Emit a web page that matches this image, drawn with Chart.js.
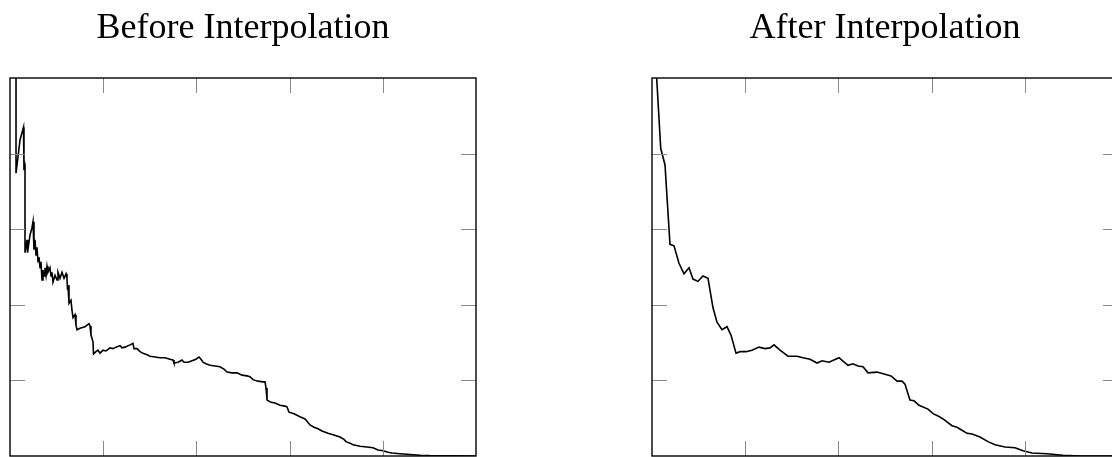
<!DOCTYPE html>
<html>
<head>
<meta charset="utf-8">
<script src="https://cdn.jsdelivr.net/npm/chart.js@4.4.1/dist/chart.umd.min.js"></script>
<style>
  html, body { margin: 0; padding: 0; background: #fff; overflow: hidden; }
  body { width: 1112px; height: 457px; position: relative; }
  canvas { position: absolute; top: 0; }
</style>
</head>
<body>
<canvas id="before" width="556" height="457" style="left:0"></canvas>
<canvas id="after" width="556" height="457" style="left:642px"></canvas>
<script>
// --- data ---
const beforeX = [1.29,1.29,2.15,2.90,3.00,3.11,3.22,3.22,3.65,3.76,
  4.29,4.72,4.94,5.15,5.37,5.58,5.79,6.01,6.22,6.44,
  6.65,6.87,7.08,7.30,7.51,7.73,7.94,8.15,8.58,8.80,
  9.01,9.23,9.66,10.09,10.30,10.73,11.16,11.59,12.02,12.23,
  12.34,12.45,12.66,13.09,13.30,13.52,13.95,14.16,14.38,15.02,
  16.09,16.95,17.17,17.38,17.81,17.92,18.45,18.88,19.31,19.96,
  20.60,21.46,22.10,22.75,23.61,24.03,24.68,25.75,26.39,26.61,
  27.25,27.90,28.54,29.40,30.04,31.12,32.19,33.26,34.33,34.98,
  35.19,36.05,36.91,37.34,38.20,39.06,39.91,40.56,40.99,41.42,
  42.06,42.92,43.99,45.06,45.92,46.57,47.64,48.71,49.79,50.86,
  51.50,52.15,53.22,54.29,54.72,54.94,55.15,56.01,56.87,57.94,
  59.01,59.44,59.87,60.94,62.23,63.30,63.73,64.38,65.24,66.09,
  66.95,68.24,69.31,70.82,71.67,72.10,72.96,73.61,75.11,76.61,
  77.90,78.97,80.04,81.12,81.97,83.69,85.84,87.98,90.13,94.42,
  100];
const beforeY = [5.50,3.74,4.18,4.35,3.78,3.88,3.85,2.69,2.86,2.69,
  2.92,3.02,3.10,2.73,2.86,2.66,2.76,2.57,2.63,2.49,
  2.57,2.33,2.46,2.38,2.49,2.39,2.51,2.43,2.49,2.38,
  2.43,2.30,2.39,2.33,2.43,2.35,2.43,2.35,2.41,2.35,
  2.20,2.26,2.02,2.06,1.93,1.83,1.87,1.73,1.67,1.69,
  1.71,1.75,1.72,1.60,1.51,1.35,1.38,1.40,1.36,1.40,
  1.39,1.43,1.42,1.44,1.46,1.43,1.44,1.47,1.49,1.42,
  1.42,1.38,1.36,1.34,1.32,1.31,1.30,1.30,1.28,1.27,
  1.23,1.24,1.27,1.24,1.24,1.26,1.28,1.31,1.28,1.24,
  1.22,1.20,1.19,1.18,1.15,1.11,1.10,1.10,1.07,1.06,
  1.05,1.01,0.99,0.98,0.98,0.90,0.74,0.71,0.70,0.67,
  0.66,0.65,0.58,0.56,0.52,0.49,0.46,0.41,0.38,0.36,
  0.33,0.30,0.28,0.25,0.22,0.19,0.17,0.15,0.13,0.12,
  0.11,0.08,0.07,0.05,0.04,0.03,0.02,0.01,0.005,0.002,
  0];

const afterX = [0.66,1.87,2.79,3.86,4.72,5.79,6.87,7.94,8.80,9.87,
  10.94,12.02,13.09,13.95,15.02,16.09,16.95,18.03,18.88,20.17,
  21.46,22.96,24.25,25.32,26.18,27.47,29.18,31.12,32.40,33.91,
  35.41,36.48,37.98,40.13,42.06,43.13,44.21,45.28,46.35,48.28,
  50.00,51.29,52.58,53.65,54.29,55.36,56.22,57.30,59.23,60.30,
  61.37,62.45,64.38,65.45,66.52,67.60,68.67,70.39,72.10,73.61,
  75.75,77.90,79.61,81.55,84.76,88.20,91.85,100];
const afterY = [5.37,4.07,3.85,2.80,2.78,2.55,2.41,2.49,2.34,2.31,
  2.38,2.35,1.96,1.77,1.67,1.71,1.60,1.36,1.38,1.38,
  1.40,1.44,1.42,1.43,1.47,1.40,1.32,1.32,1.30,1.28,
  1.23,1.26,1.24,1.30,1.20,1.22,1.19,1.18,1.10,1.11,
  1.08,1.06,0.99,0.99,0.95,0.74,0.73,0.67,0.62,0.56,
  0.53,0.49,0.40,0.38,0.34,0.30,0.29,0.25,0.19,0.15,
  0.12,0.11,0.07,0.04,0.03,0.01,0,0];

const xTicks = [20, 40, 60, 80];
const yTicks = [1, 2, 3, 4];
const xMax = 100;
const yMax = 5;

// pgfplots-like box with inner ticks on every side, plus the title
const framePlugin = {
  id: "frame",
  afterDraw(chart, args, opts) {
    const { ctx, chartArea: a, scales } = chart;
    const len = 15;
    ctx.save();
    ctx.strokeStyle = "#8a8a8a";
    ctx.lineWidth = 1;
    ctx.beginPath();
    xTicks.forEach(v => {
      const px = Math.round(scales.x.getPixelForValue(v)) + 0.5;
      ctx.moveTo(px, a.bottom); ctx.lineTo(px, a.bottom - len);
      ctx.moveTo(px, a.top); ctx.lineTo(px, a.top + len);
    });
    yTicks.forEach(v => {
      const py = Math.round(scales.y.getPixelForValue(v)) + 0.5;
      ctx.moveTo(a.left, py); ctx.lineTo(a.left + len, py);
      ctx.moveTo(a.right, py); ctx.lineTo(a.right - len, py);
    });
    ctx.stroke();

    ctx.strokeStyle = "#000";
    ctx.lineWidth = 1.4;
    ctx.strokeRect(a.left, a.top, a.right - a.left, a.bottom - a.top);

    ctx.fillStyle = "#000";
    ctx.font = '36px "Liberation Serif", serif';
    ctx.textAlign = "center";
    ctx.textBaseline = "alphabetic";
    ctx.fillText(opts.text, (a.left + a.right) / 2, 38);
    ctx.restore();
  }
};

function makeChart(id, xs, ys, title) {
  return new Chart(document.getElementById(id), {
    type: "line",
    data: {
      datasets: [{
        data: xs.map((x, i) => ({ x, y: ys[i] })),
        borderColor: "#000",
        borderWidth: 1.6,
        pointRadius: 0,
        tension: 0,
        fill: false
      }]
    },
    options: {
      responsive: false,
      animation: false,
      layout: { padding: { left: 10, top: 78, right: 80, bottom: 1 } },
      scales: {
        x: { type: "linear", min: 0, max: xMax, display: false },
        y: { type: "linear", min: 0, max: yMax, display: false }
      },
      plugins: {
        legend: { display: false },
        tooltip: { enabled: false },
        frame: { text: title }
      }
    },
    plugins: [framePlugin]
  });
}

makeChart("before", beforeX, beforeY, "Before Interpolation");
makeChart("after", afterX, afterY, "After Interpolation");
</script>
</body>
</html>
